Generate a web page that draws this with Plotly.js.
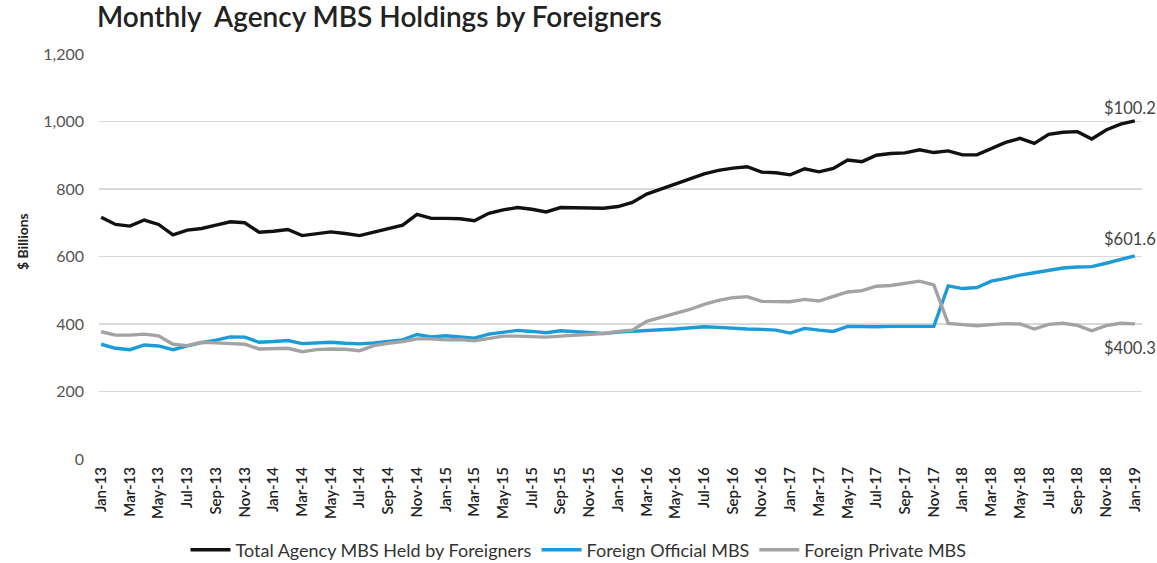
<!DOCTYPE html>
<html>
<head>
<meta charset="utf-8">
<script src="https://cdn.plot.ly/plotly-3.0.1.min.js"></script>
<style>
html,body{margin:0;padding:0;background:#fff;}
#chart{width:1157px;height:563px;}
</style>
</head>
<body>
<div id="chart"></div>
<script>
// Month labels (Jan-13 .. Jan-19)
const monthNames = ["Jan","Feb","Mar","Apr","May","Jun","Jul","Aug","Sep","Oct","Nov","Dec"];
const years = ["13","14","15","16","17","18","19"];
const months = [];
for (const y of years) { for (const m of monthNames) { months.push(m + "-" + y); } }
months.length = 73;

// $ Billions
const totalHeld = [
  716, 695, 690, 708, 695, 664, 678, 683, 693, 703, 700, 672,
  675, 680, 662, 668, 673, 668, 662, 672, 683, 693, 725, 713,
  713, 712, 706, 728, 738, 745, 740, 732, 745, 744, 743, 743,
  748, 760, 785, 800, 815, 830, 845, 855, 862, 866, 850, 848,
  842, 860, 851, 861, 886, 881, 900, 905, 907, 916, 908, 913,
  901, 901, 920, 938, 950, 935, 962, 968, 970, 948, 975, 992,
  1002
];
const officialMBS = [
  340, 328, 324, 338, 335, 324, 335, 345, 352, 362, 361, 346,
  348, 351, 342, 344, 346, 343, 341, 344, 348, 353, 369, 362,
  365, 362, 358, 370, 375, 381, 378, 374, 380, 377, 374, 372,
  376, 379, 381, 383, 385, 388, 392, 390, 387, 385, 384, 382,
  373, 387, 382, 378, 393, 392, 392, 393, 393, 393, 393, 513,
  505, 508, 527, 535, 545, 552, 559, 566, 569, 570, 580, 590,
  601.6
];
const privateMBS = [
  377, 367, 367, 370, 365, 340, 336, 346, 344, 343, 340, 326,
  327, 328, 318, 324, 326, 325, 321, 336, 343, 348, 356, 356,
  353, 354, 350, 357, 364, 364, 363, 361, 364, 367, 369, 372,
  378, 382, 408, 420, 432, 443, 458, 470, 478, 481, 467, 466,
  466, 473, 468, 482, 495, 499, 512, 514, 520, 527, 516, 402,
  398, 395, 398, 401, 400, 385, 399, 402, 396, 380, 395, 402,
  400.3
];
const seriesNames = ["Total Agency MBS Held by Foreigners", "Foreign Official MBS", "Foreign Private MBS"];
const endLabels = ["$100.2", "$601.6", "$400.3"];
const yTicks = [0, 200, 400, 600, 800, 1000, 1200];
const yTickText = ["0", "200", "400", "600", "800", "1,000", "1,200"];
const xTickLabels = months.filter((m, i) => i % 2 === 0);

const colors = ["#111111", "#1c9bd8", "#a3a3a3"];
const seriesData = [totalHeld, officialMBS, privateMBS];

const traces = seriesData.map((vals, i) => ({
  type: "scatter",
  mode: "lines",
  name: seriesNames[i],
  x: months,
  y: vals,
  line: { color: colors[i], width: 3.4 },
  hoverinfo: "x+y+name"
}));

const labelShift = [13, 17, -24];
const annotations = seriesData.map((vals, i) => ({
  xref: "paper", yref: "y", x: 0.9615, y: vals[72], yshift: labelShift[i],
  text: endLabels[i], showarrow: false, xanchor: "left",
  font: { family: "Lato, 'Open Sans', sans-serif", size: 16.5, color: "#444" }
}));

annotations.push({
  xref: "paper", yref: "paper", x: (22 - 99) / 1043, y: (459 - 242) / 405, showarrow: false,
  xanchor: "center", yanchor: "middle",
  text: "$ Billions", textangle: -90,
  font: { family: "Lato, sans-serif", size: 14, color: "#222", weight: "bold" }
});

const layout = {
  width: 1157, height: 563,
  paper_bgcolor: "#ffffff", plot_bgcolor: "#ffffff",
  margin: { l: 99, r: 15, t: 54, b: 104 },
  title: {
    text: "Monthly  Agency MBS Holdings by Foreigners",
    x: 97 / 1157, xanchor: "left", xref: "container",
    y: 1, yref: "container", yanchor: "top", pad: { t: 7 },
    font: { family: "Lato, 'Open Sans', sans-serif", size: 28, color: "#222", weight: 600 }
  },
  font: { family: "Lato, 'Open Sans', sans-serif", color: "#333" },
  xaxis: {
    type: "category",
    categoryorder: "array", categoryarray: months,
    range: [-0.15, 72.5],
    tickmode: "array", tickvals: xTickLabels, ticktext: xTickLabels,
    tickangle: -90,
    tickfont: { family: "Lato, sans-serif", size: 15, color: "#222", weight: 600 },
    showgrid: false, zeroline: false, showline: false,
    ticks: "", ticklen: 0, ticklabelstandoff: 4
  },
  yaxis: {
    range: [0, 1200],
    tickmode: "array", tickvals: yTicks, ticktext: yTickText,
    tickfont: { family: "Lato, sans-serif", size: 16, color: "#555" },
    showgrid: true, gridcolor: "#d9d9d9", gridwidth: 1.5,
    zeroline: false, showline: false, ticks: "", ticklabelstandoff: 14
  },
  showlegend: true,
  legend: {
    orientation: "h", x: 0.5, xanchor: "center", xref: "container",
    y: 13 / 563, yref: "container", yanchor: "middle",
    font: { family: "Lato, sans-serif", size: 18, color: "#333" },
    itemwidth: 40, tracegroupgap: 0
  },
  annotations: annotations
};

Plotly.newPlot("chart", traces, layout, { displayModeBar: false, staticPlot: true });
</script>
</body>
</html>
